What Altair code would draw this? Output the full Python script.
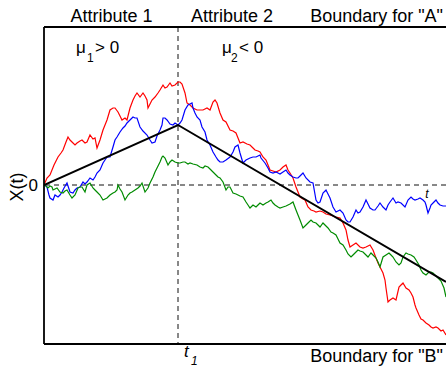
import altair as alt
import pandas as pd

# ---- data (t = time step, X = evidence) ----
t_max = 402
t1 = 134
x_min, x_max = -159, 158

drift_path = [(0, 0), (134, 60), (402, -97)]

red_walk = [(0,0),(3,7),(6,10),(10,20),(14,28),(17,32),(19,35),(22,43),(24,48),(26,45),(28,43),(31,40),(33,42),(36,44),(38,45),(41,42),(43,43),(46,50),(49,46),(51,47),(53,37),(56,45),(59,55),(61,60),(63,65),(66,75),(69,77),(71,77),(74,73),(76,69),(78,65),(81,67),(83,65),(86,77),(89,85),(91,89),(93,92),(96,88),(99,92),(101,89),(103,85),(104,77),(106,81),(108,85),(111,88),(114,92),(116,95),(119,100),(121,97),(123,98),(126,102),(128,99),(131,100),(134,103),(136,103),(138,101),(141,92),(143,82),(146,80),(149,77),(153,75),(156,75),(159,75),(163,77),(166,75),(169,83),(171,85),(173,82),(176,72),(179,65),(182,63),(186,55),(189,54),(192,52),(194,47),(196,42),(199,43),(203,41),(206,40),(209,37),(211,35),(214,34),(216,33),(219,28),(222,25),(224,20),(226,15),(229,14),(232,13),(236,15),(239,18),(242,20),(244,15),(246,12),(249,7),(252,-2),(254,-7),(256,-12),(259,-14),(261,-15),(264,-22),(267,-25),(270,-26),(272,-27),(276,-26),(279,-27),(282,-29),(286,-30),(289,-31),(292,-32),(296,-33),(299,-38),(302,-45),(304,-55),(306,-62),(309,-60),(312,-58),(316,-62),(319,-63),(322,-62),(326,-60),(329,-65),(332,-73),(334,-78),(336,-82),(339,-88),(341,-95),(342,-103),(344,-117),(346,-115),(349,-113),(352,-115),(355,-102),(357,-100),(359,-98),(362,-103),(365,-105),(367,-108),(369,-112),(371,-120),(372,-123),(375,-130),(377,-134),(379,-135),(382,-138),(385,-140),(387,-142),(389,-143),(392,-142),(394,-143),(397,-146),(399,-145),(402,-150)]

blue_walk = [(0,0),(2,-1),(3,-2),(5,-10),(6,-13),(9,-15),(11,-10),(14,-12),(16,-10),(18,-7),(20,-3),(23,2),(26,-7),(29,-8),(31,-5),(33,-3),(36,-2),(39,3),(41,1),(43,3),(46,7),(49,5),(51,8),(53,12),(56,15),(59,22),(61,25),(63,28),(66,28),(69,38),(71,45),(73,48),(76,53),(79,57),(81,59),(83,62),(86,65),(89,68),(91,67),(93,67),(96,58),(99,54),(103,50),(106,45),(108,42),(111,43),(113,49),(116,55),(118,60),(119,67),(121,67),(123,65),(126,61),(129,60),(131,62),(134,60),(136,62),(138,65),(141,75),(144,80),(146,81),(148,82),(149,77),(151,72),(153,68),(156,65),(158,58),(161,53),(163,45),(166,40),(169,33),(172,28),(174,25),(176,23),(179,23),(182,25),(186,28),(189,33),(191,38),(194,40),(196,32),(199,22),(202,25),(206,27),(209,28),(212,28),(214,29),(216,30),(217,27),(221,22),(224,17),(226,13),(229,12),(232,13),(234,12),(236,11),(239,13),(242,15),(244,12),(246,10),(249,8),(252,7),(254,7),(256,9),(259,12),(262,7),(266,3),(269,2),(272,-15),(274,-18),(276,-17),(279,-8),(282,-5),(284,-9),(286,-13),(289,-22),(292,-27),(296,-25),(299,-28),(302,-35),(304,-37),(306,-37),(309,-32),(312,-25),(314,-28),(316,-27),(319,-22),(322,-15),(324,-19),(326,-23),(329,-25),(331,-25),(334,-21),(336,-18),(339,-22),(342,-25),(344,-20),(346,-17),(349,-13),(352,-18),(354,-17),(357,-18),(361,-22),(364,-15),(367,-12),(369,-14),(371,-15),(374,-14),(376,-13),(379,-15),(381,-17),(382,-20),(384,-28),(386,-23),(387,-20),(390,-17),(392,-15),(394,-18),(396,-20),(399,-21),(402,-21)]

green_walk = [(0,0),(1,0),(4,-3),(6,-1),(8,-2),(9,-5),(11,-4),(13,-3),(16,-7),(19,-8),(21,-6),(23,-5),(26,-10),(28,-13),(31,-10),(34,-3),(36,-2),(38,-2),(41,-7),(43,0),(46,2),(49,-3),(51,-5),(53,-7),(56,-10),(59,-15),(61,-14),(63,-13),(66,-10),(69,-8),(71,-7),(73,-5),(74,0),(76,-4),(78,-7),(81,-15),(84,-10),(86,-8),(88,-7),(91,-5),(94,-3),(96,-1),(98,2),(101,-7),(104,-3),(106,2),(109,8),(111,13),(113,17),(116,23),(118,28),(119,29),(121,27),(124,20),(126,23),(128,25),(131,23),(134,22),(136,22),(139,23),(141,23),(144,21),(146,22),(149,21),(153,20),(156,18),(159,17),(161,19),(164,18),(166,16),(169,13),(172,10),(174,8),(176,7),(179,3),(182,-5),(184,-2),(186,-2),(189,-8),(192,-9),(194,-10),(196,-11),(199,-12),(202,-17),(204,-20),(206,-23),(209,-20),(212,-22),(214,-20),(216,-18),(219,-20),(222,-18),(224,-17),(227,-15),(229,-18),(231,-20),(234,-22),(236,-23),(239,-22),(242,-21),(244,-20),(246,-19),(249,-17),(252,-25),(254,-30),(256,-35),(259,-43),(262,-40),(264,-38),(267,-35),(269,-37),(272,-38),(274,-40),(276,-42),(279,-38),(282,-41),(284,-43),(287,-47),(289,-48),(292,-50),(294,-54),(296,-58),(299,-60),(302,-65),(304,-69),(307,-72),(309,-70),(311,-68),(314,-65),(316,-66),(319,-67),(322,-70),(324,-72),(327,-68),(329,-70),(332,-73),(334,-77),(336,-82),(339,-72),(342,-70),(345,-68),(347,-70),(349,-72),(352,-77),(355,-80),(357,-78),(359,-72),(362,-68),(364,-69),(367,-70),(370,-72),(372,-75),(375,-80),(377,-85),(379,-88),(382,-90),(385,-87),(387,-87),(389,-88),(392,-91),(394,-93),(397,-96),(400,-103),(402,-112)]

series_names = ["red", "blue", "green"]
series_colors = ["#ff0000", "#0000ff", "#008b00"]

rows = []
for name, pts in zip(series_names, [red_walk, blue_walk, green_walk]):
    for t, x in pts:
        rows.append({"series": name, "t": t, "X": x})
walk_df = pd.DataFrame(rows)
drift_df = pd.DataFrame(drift_path, columns=["t", "X"])

W, H = 402, 317
FONT = "Liberation Sans"

xs = alt.Scale(domain=[0, t_max], nice=False, zero=False)
ys = alt.Scale(domain=[x_min, x_max], nice=False, zero=False)
one = pd.DataFrame({"k": [0]})

walks = alt.Chart(walk_df).mark_line(strokeWidth=1.2, clip=True).encode(
    x=alt.X("t:Q", scale=xs, axis=None),
    y=alt.Y("X:Q", scale=ys, axis=None),
    color=alt.Color("series:N", scale=alt.Scale(domain=series_names, range=series_colors), legend=None),
)

drift = alt.Chart(drift_df).mark_line(strokeWidth=2, color="black", clip=True).encode(
    x=alt.X("t:Q", scale=xs, axis=None),
    y=alt.Y("X:Q", scale=ys, axis=None),
)

hdash = alt.Chart(pd.DataFrame({"X": [0]})).mark_rule(strokeDash=[5, 4], color="#111111", strokeWidth=1).encode(
    y=alt.Y("X:Q", scale=ys, axis=None)
)
vdash = alt.Chart(pd.DataFrame({"t": [t1]})).mark_rule(strokeDash=[5, 4], color="#111111", strokeWidth=1).encode(
    x=alt.X("t:Q", scale=xs, axis=None)
)

border_l = alt.Chart(one).mark_rule(color="black", strokeWidth=1.8).encode(
    x=alt.value(0), y=alt.value(0), y2=alt.value(H))
border_t = alt.Chart(one).mark_rule(color="black", strokeWidth=1.8).encode(
    x=alt.value(0), x2=alt.value(W + 4), y=alt.value(0))
border_b = alt.Chart(one).mark_rule(color="black", strokeWidth=1.8).encode(
    x=alt.value(0), x2=alt.value(W + 4), y=alt.value(H))


def label(text, x, y, size=18, align="left", baseline="alphabetic", italic=False, angle=None):
    kw = dict(text=text, fontSize=size, align=align, baseline=baseline, font=FONT, color="black")
    if italic:
        kw["fontStyle"] = "italic"
    if angle is not None:
        kw["angle"] = angle
    return alt.Chart(one).mark_text(**kw).encode(x=alt.value(x), y=alt.value(y))


texts = [
    label("Attribute 1", 67.5, -5, align="center"),
    label("Attribute 2", 188, -5, align="center"),
    label('Boundary for "A"', 399, -5, align="right"),
    label('Boundary for "B"', 399, 335, align="right"),
    label("μ", 32, 26, size=17),
    label("1", 43, 35, size=12),
    label("> 0", 51, 26, size=17),
    label("μ", 178, 26, size=17),
    label("2", 187, 35, size=12),
    label("< 0", 195, 26, size=17),
    label("0", -6, 159, size=17, align="right", baseline="middle"),
    label("X(t)", -26, 160, size=18, align="center", baseline="middle", angle=270),
    label("t", 140, 330, size=17, italic=True),
    label("1", 147, 338, size=12, italic=True),
    label("t", 383, 171, size=12, italic=True, align="center"),
]

chart = alt.layer(hdash, vdash, walks, drift, border_l, border_t, border_b, *texts).properties(
    width=W, height=H,
    padding={"left": 44, "top": 27, "right": 0, "bottom": 23},
    autosize="none",
    background="white",
).configure_view(stroke=None)

chart.save("out.html", embed_options={"renderer": "svg", "actions": False})
